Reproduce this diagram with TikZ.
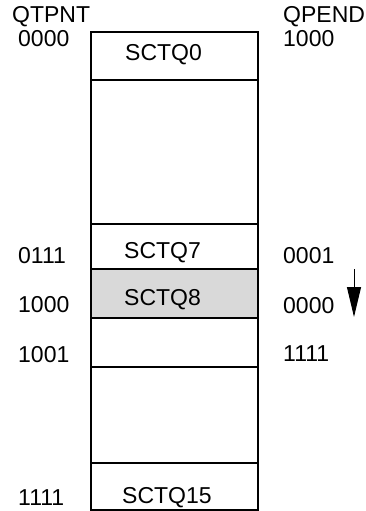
\documentclass[tikz,border=0pt]{standalone}
\usepackage{fontspec}
\setmainfont{Liberation Sans}
\usepackage{tikz}
\usetikzlibrary{positioning,arrows.meta}
\definecolor{slotgray}{RGB}{217,217,217}

\begin{document}
\begin{tikzpicture}[
  x=1pt,y=-1pt,
  cell/.style={rectangle,draw=black,line width=1.7pt,minimum width=167pt,inner sep=0pt,anchor=north west},
  hit/.style={fill=slotgray},
  lbl/.style={inner sep=0pt,anchor=base west,font=\fontsize{23}{27}\selectfont}
]
\useasboundingbox (0,0) rectangle (365,511);

% queue slots
\node[cell,minimum height=48pt] (q0) at (90,31) {};
\node[cell,minimum height=144pt] (qa) at (90,79) {};
\node[cell,minimum height=45pt] (q7) at (90,223) {};
\node[cell,hit,minimum height=49pt] (q8) at (90,268) {};
\node[cell,minimum height=49pt] (q9) at (90,317) {};
\node[cell,minimum height=96pt] (qb) at (90,366) {};
\node[cell,minimum height=47pt] (q15) at (90,462) {};

\node[lbl] (t0) at (125,60) {SCTQ0};
\node[lbl] (t7) at (124,258) {SCTQ7};
\node[lbl] (t8) at (124,305) {SCTQ8};
\node[lbl] (t15) at (122,503) {SCTQ15};

% QTPNT side
\node[lbl] (qtpnt) at (12,23) {QTPNT};
\node[lbl] (p0) at (18,47) {0000};
\node[lbl] (p7) at (18,263) {0111};
\node[lbl] (p8) at (18,312) {1000};
\node[lbl] (p9) at (18,362) {1001};
\node[lbl] (p15) at (18,505) {1111};

% QPEND side
\node[lbl] (qpend) at (283,23) {QPEND};
\node[lbl] (e0) at (283,47) {1000};
\node[lbl] (e7) at (283,263) {0001};
\node[lbl] (e8) at (283,313) {0000};
\node[lbl] (e9) at (283,361) {1111};

\coordinate (dtop) at (354,269);
\coordinate (dtip) at (354,317);
\draw[line width=1pt,-{Triangle[length=30pt,width=14pt]}] (dtop) -- (dtip);

\end{tikzpicture}
\end{document}
